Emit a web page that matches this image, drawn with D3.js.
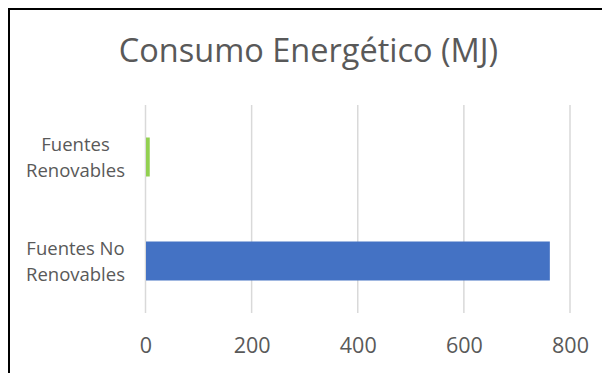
<!DOCTYPE html>
<html><head><meta charset="utf-8">
<script src="https://cdn.jsdelivr.net/npm/d3@7"></script>
<style>html,body{margin:0;padding:0;background:#fff;overflow:hidden}</style>
</head><body>
<svg id="c" width="602" height="373"></svg>
<script>
const title = "Consumo Energético (MJ)";
const categories = [["Fuentes", "Renovables"], ["Fuentes No", "Renovables"]];
const values = [8, 762];
const colors = ["#92D050", "#4472C4"];
const tickValues = [0, 200, 400, 600, 800];

const svg = d3.select("#c");
const FONT = "'Open Sans', 'Noto Sans', sans-serif";
const textColor = "#595959";

svg.append("rect").attr("x", 0).attr("y", 0).attr("width", 602).attr("height", 373).attr("fill", "#fff");
// outer frame (extends beyond visible area on right/bottom)
svg.append("rect").attr("x", 9).attr("y", 9).attr("width", 640).attr("height", 420)
  .attr("fill", "none").attr("stroke", "#000").attr("stroke-width", 2);

const x = d3.scaleLinear().domain([0, 800]).range([145.5, 570]);
const y = d3.scaleBand().domain(d3.range(categories.length)).range([105, 313])
  .paddingInner(0.625).paddingOuter(0.3125);

// gridlines
svg.append("g").selectAll("line").data(tickValues).join("line")
  .attr("x1", d => x(d)).attr("x2", d => x(d))
  .attr("y1", 105).attr("y2", 313)
  .attr("stroke", "#d9d9d9").attr("stroke-width", 1.5);

// bars
svg.append("g").selectAll("rect").data(values).join("rect")
  .attr("x", x(0) + 0.5)
  .attr("y", (d, i) => y(i))
  .attr("width", d => x(d) - x(0) - 0.5)
  .attr("height", y.bandwidth())
  .attr("fill", (d, i) => colors[i]);

// x axis labels
const xAxis = d3.axisBottom(x).tickValues(tickValues).tickSize(0).tickPadding(0);
const gx = svg.append("g").attr("transform", "translate(0,353)").call(xAxis);
gx.select(".domain").remove();
gx.selectAll("text").attr("dy", 0).attr("font-family", FONT).attr("font-size", 21.5)
  .attr("fill", textColor);

// category labels
const gy = svg.append("g");
categories.forEach((lines, i) => {
  const cy = y(i) + y.bandwidth() / 2;
  const t = gy.append("text").attr("text-anchor", "middle")
    .attr("font-family", FONT).attr("font-size", 18.5).attr("fill", textColor);
  lines.forEach((ln, j) => {
    t.append("tspan").attr("x", 75.5).attr("y", cy - 6 + j * 25.5).text(ln);
  });
});

// title
svg.append("text").attr("x", 308.5).attr("y", 62).attr("text-anchor", "middle")
  .attr("font-family", FONT).attr("font-size", 32.5).attr("fill", textColor).text(title);
</script>
</body></html>
